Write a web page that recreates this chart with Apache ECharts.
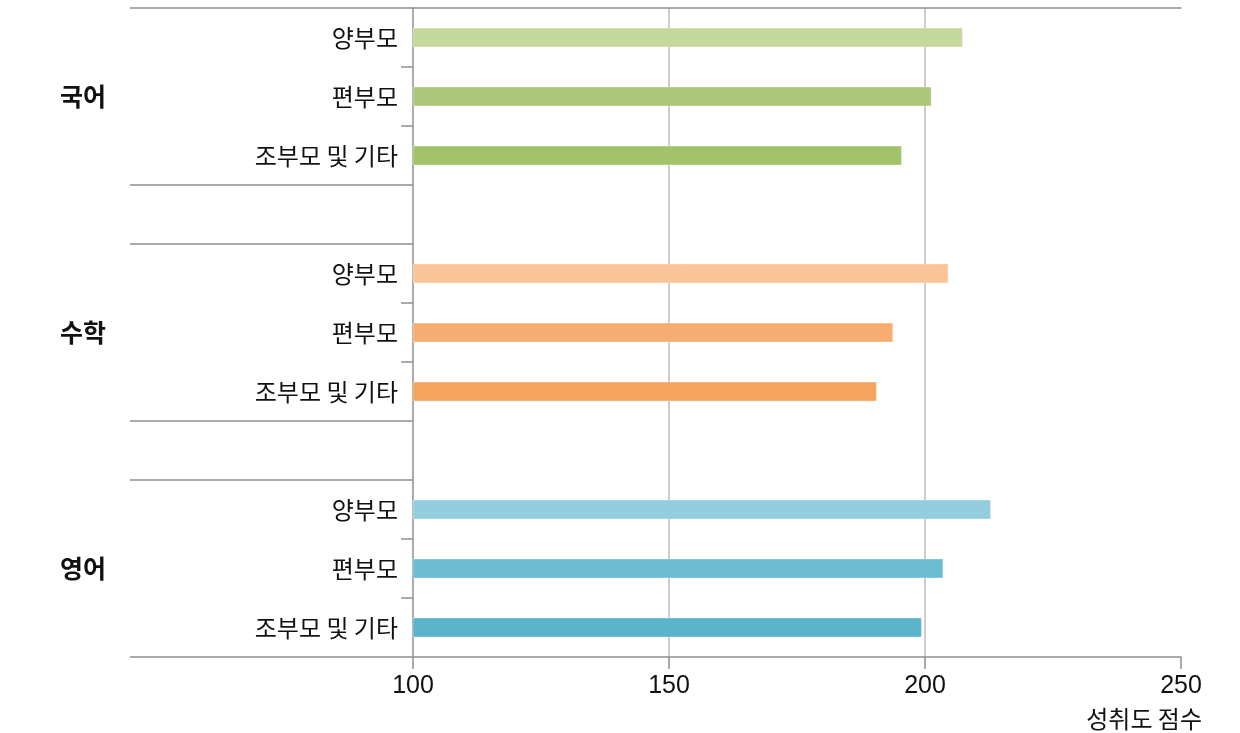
<!DOCTYPE html>
<html>
<head>
<meta charset="utf-8">
<script src="https://cdn.jsdelivr.net/npm/echarts@6/dist/echarts.min.js"></script>
<style>
html,body{margin:0;padding:0;background:#fff;}
#chart{width:1240px;height:733px;}
</style>
</head>
<body>
<div id="chart"></div>
<script>
// ---- data ----
const subjects = ['국어', '수학', '영어'];
const familyTypes = ['양부모', '편부모', '조부모 및 기타'];
const koreanScores = [207.4, 201.3, 195.5];
const mathScores = [204.6, 193.8, 190.6];
const englishScores = [212.9, 203.6, 199.4];
const xAxisMin = 100, xAxisMax = 250, xAxisStep = 50;
const xAxisTitle = '성취도 점수';

// ---- styles ----
const subjectColors = [
  ['#c5d89e', '#abc87a', '#a3c36b'],
  ['#f8c498', '#f7ad72', '#f6a35e'],
  ['#94cede', '#6cbcd3', '#5bb3cc']
];
const FONT = '"Noto Sans CJK KR", "Noto Sans", sans-serif';
const NUM_FONT = '"Liberation Sans", Arial, sans-serif';
const AXIS_GREY = '#8f8f8f';

// ---- build slots (3 per subject + gap slot between subjects) ----
const allScores = [koreanScores, mathScores, englishScores];
const slots = [];
const barData = [];
const longTickIdx = [];
const shortTickIdx = [];
const groupLabelIdx = {};
subjects.forEach((s, si) => {
  if (si > 0) {
    longTickIdx.push(slots.length);
    slots.push('gap' + si);
    barData.push(null);
  }
  longTickIdx.push(slots.length);
  familyTypes.forEach((f, fi) => {
    if (fi > 0) shortTickIdx.push(slots.length);
    if (fi === 1) groupLabelIdx[slots.length] = s;
    slots.push(s + '|' + f);
    barData.push({ value: allScores[si][fi], itemStyle: { color: subjectColors[si][fi] } });
  });
});

const chart = echarts.init(document.getElementById('chart'), null, { renderer: 'canvas' });
chart.setOption({
  animation: false,
  backgroundColor: '#fff',
  grid: { left: 413, right: 59, top: 8, bottom: 76, containLabel: false, outerBoundsMode: 'none' },
  xAxis: [
    {
      type: 'value', position: 'bottom',
      min: xAxisMin, max: xAxisMax, interval: xAxisStep,
      name: xAxisTitle, nameLocation: 'end', nameGap: 21,
      nameTextStyle: { fontFamily: FONT, fontSize: 24, color: '#111', align: 'right', verticalAlign: 'top', padding: [50, 0, 0, 0] },
      axisLine: { show: true, lineStyle: { color: AXIS_GREY, width: 1.5 } },
      axisTick: { show: true, length: 12, lineStyle: { color: AXIS_GREY, width: 1.5 } },
      axisLabel: { fontFamily: NUM_FONT, fontSize: 25, color: '#111', margin: 17 },
      splitLine: { show: true, showMinLine: false, showMaxLine: false, lineStyle: { color: '#bdbdbd', width: 1.5 } }
    },
    {
      type: 'value', position: 'top',
      min: xAxisMin, max: xAxisMax, interval: xAxisStep,
      axisLine: { show: true, lineStyle: { color: AXIS_GREY, width: 1.5 } },
      axisTick: { show: false }, axisLabel: { show: false }, splitLine: { show: false }
    }
  ],
  yAxis: [
    {
      type: 'category', data: slots, inverse: true, position: 'left',
      axisLine: { show: true, lineStyle: { color: AXIS_GREY, width: 1.5 } },
      axisTick: { show: true, length: 12, interval: (i) => shortTickIdx.includes(i), lineStyle: { color: AXIS_GREY, width: 1.5 } },
      axisLabel: {
        interval: 0, margin: 15, fontFamily: FONT, fontSize: 24, color: '#111',
        formatter: (v) => v.indexOf('|') >= 0 ? v.split('|')[1] : ''
      },
      splitLine: { show: false }
    },
    {
      type: 'category', data: slots, inverse: true, position: 'left',
      axisLine: { show: false },
      axisTick: { show: true, length: 283, interval: (i) => longTickIdx.includes(i), lineStyle: { color: AXIS_GREY, width: 1.5 } },
      axisLabel: {
        interval: 0, margin: 353, align: 'left', fontFamily: FONT, fontSize: 25, fontWeight: 'bold', color: '#111',
        formatter: (v, i) => groupLabelIdx[i] || ''
      },
      splitLine: { show: false }
    }
  ],
  series: [
    {
      type: 'bar', xAxisIndex: 0, yAxisIndex: 0,
      data: barData, barWidth: 20, clip: true,
      itemStyle: { borderColor: 'rgba(255,255,255,0.35)', borderWidth: 1 }
    }
  ]
});
</script>
</body>
</html>
